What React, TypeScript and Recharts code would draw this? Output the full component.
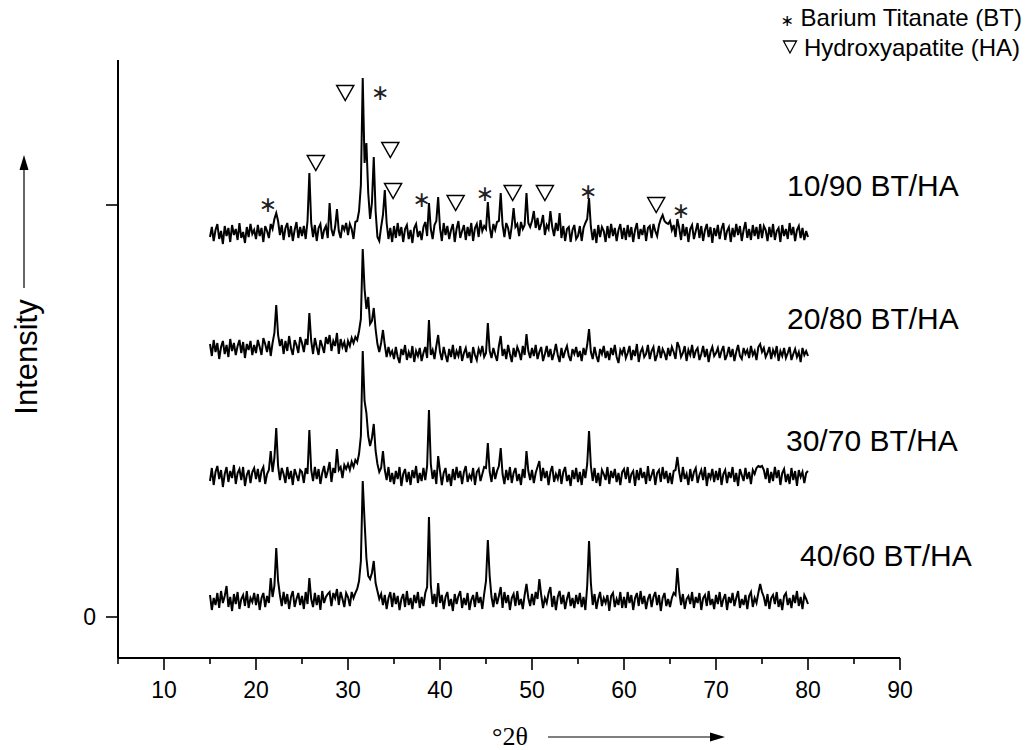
import React from 'react'
import { ComposedChart, Line, Scatter, XAxis, YAxis } from 'recharts'

// 2θ scan, 15–80° at 0.2° steps
const twoTheta = Array.from({ length: 326 }, (_, i) => Math.round((15 + i * 0.2) * 10) / 10)

const sampleNames = ['10/90 BT/HA', '20/80 BT/HA', '30/70 BT/HA', '40/60 BT/HA']
// vertical stacking of the patterns (intensity units)
const stackOffsets = [384, 268, 141, 16]

// relative intensity, one row = 5°
const bt10 = [
  -4, 6, -8, 3, 9, -6, 2, -11, 7, -3, 5, -9, 8, -2, 4, -7, 10, -5, 1, -10, 6, -4, 9, -1, 3,
  -6, 8, -3, 5, -9, 7, 2, -5, 9, 4, 14, 20, 12, -2, 8, -7, 5, 10, -4, 7, -8, 3, 11, -5, 6,
  -3, 7, -6, 12, 60, 10, -4, 8, -8, 5, 9, -6, 3, 7, -5, 30, 4, -3, 6, 24, 2, -5, 8, 3, 10,
  -2, 9, 4, -6, 11, 12, 22, 48, 155, 70, 90, 40, 14, 30, 76, 22, -4, -8, 6, 18, 43, 10, -6, 5, -9,
  7, -5, 10, -3, 6, -9, 4, 8, -6, 3, -10, 5, 9, -4, 2, -7, 6, 11, -3, 30, 4, -6, 8, 12, 36,
  5, -8, 10, -2, 7, -6, 3, 9, -9, 4, 12, -5, 2, 8, -7, 6, -3, 10, -8, 5, 9, -4, 13, 2, 7,
  4, 31, 6, -5, 9, 3, 11, 12, 40, 8, -4, 10, 5, -6, 7, 25, 6, 9, -3, 11, 4, 8, 40, 10, 6,
  12, 22, 5, 15, 3, 9, 18, -2, 8, 4, 22, 6, -3, 10, 2, 20, -5, 7, -8, 4, 6, -9, 3, 8, -6,
  -3, 7, -8, 5, 10, 14, 35, 6, -7, 4, -10, 8, -4, 6, 2, -9, 7, -5, 9, -3, 5, -8, 3, 9, -6,
  5, -7, 8, -4, 6, -9, 3, 10, -6, 4, -2, 8, -8, 5, 7, -5, 9, 2, -3, 8, 14, 18, 12, 10, 9,
  12, 3, 8, -4, 14, 5, -7, 9, -3, 6, -9, 4, 8, -6, 2, 10, -5, 7, -8, 3, 9, -4, 6, -10, 5,
  -3, 8, -6, 4, 10, -7, 2, 6, -9, 5, -4, 9, -2, 7, -8, 3, 11, -5, 4, -7, 8, -3, 6, -6, 9,
  -5, 7, 3, -8, 6, -4, 9, -7, 2, 5, -9, 8, -3, 4, -6, 10, -2, 6, -8, 3, 7, -5, 5, -7, 2,
  -4,
]

const bt20 = [
  5, -7, 9, -3, 6, -10, 2, 8, -5, 4, -8, 10, -2, 6, -6, 3, 9, -4, 7, -9, 5, -1, 8, -6, 4,
  -4, 9, 2, -6, 11, 5, -3, 8, -7, 6, 16, 44, 14, 3, 10, -5, 8, -2, 13, 1, -6, 9, 4, -4, 12,
  6, -3, 10, 4, 36, 8, -5, 11, 2, -6, 9, 3, -4, 12, 5, 14, -2, 8, 3, 16, -5, 10, 2, 7, -3,
  8, 3, 11, 6, 12, 9, 18, 30, 100, 60, 40, 52, 25, 28, 41, 20, 5, -3, 6, 19, 4, -8, 2, -6, -2,
  -10, 2, -8, -14, 0, -6, 4, -11, -3, -9, 3, -13, -2, -7, 1, -12, -4, 2, -9, 29, -6, -1, -10, 3, 14,
  -3, -11, 2, -6, -13, 0, -8, 4, -10, -2, -7, 3, -12, -4, 1, -9, -3, -14, 2, -6, -11, 0, -5, 3, -8,
  -4, 26, -2, -9, 1, -6, -12, 3, 13, -7, 0, -10, 4, -5, -13, 1, -8, 2, -3, -11, 3, -6, 15, -2, -9,
  1, -7, 4, -10, -3, 2, -12, -5, 3, -8, 0, -11, -4, 5, -6, -13, 1, -9, -2, 3, -7, -12, 0, -5, 2,
  -8, -2, -12, 1, -6, 4, 20, -3, -10, 2, -7, -13, 0, -5, 3, -9, -2, -11, 1, -6, 4, -8, -14, -1, -5,
  2, -9, -4, 3, -11, -1, -7, 5, -13, -3, 1, -8, -5, 4, -10, -2, 2, -12, -6, 3, -9, 0, -4, -11, 1,
  -7, 2, -3, -10, 7, 2, -8, -4, 3, -12, -1, -6, 4, -9, -2, 1, -11, -5, 3, -8, 0, -13, -3, 2, -7,
  -4, 1, -9, -2, 3, -11, -6, 2, -8, 0, -12, -3, 4, -7, -10, 1, -5, -1, -9, 3, -6, -2, -11, 2, 5,
  -3, 1, -8, -4, 2, -10, -1, -6, 3, -12, -2, -7, 1, -9, -4, 2, -11, -5, 0, -8, -3, -13, 1, -6, -2,
  -7,
]

const bt30 = [
  -5, 8, -9, 4, 10, -3, 6, -11, 2, 9, -6, 5, -2, 11, -8, 3, 7, -4, 9, -10, 1, 6, -7, 4, 8,
  -3, 7, -6, 5, 9, -8, 2, 6, 25, 4, 18, 48, 10, -4, 8, 2, -7, 9, -3, 5, -9, 7, 1, -5, 6,
  4, -7, 8, 2, 46, 6, -5, 9, -3, 7, -8, 3, 10, -2, 5, 14, -6, 8, 3, 27, 6, 9, -2, 11, 7,
  12, 6, 14, 9, 16, 13, 22, 40, 125, 75, 63, 40, 30, 38, 52, 25, 12, 4, 8, 25, 6, -4, 9, -6, 3,
  -8, 5, -3, 9, -10, 2, 7, -6, 4, -9, 6, -2, 10, -7, 3, -5, 8, -4, 10, 66, 12, -3, 6, -8, 20,
  5, -9, 3, 8, -6, 2, -10, 7, -4, 9, -2, 5, -8, 4, 10, -6, 1, -3, 8, -9, 4, 7, -5, 2, 9,
  8, 33, 4, -6, 9, -3, 5, 10, 28, 2, -8, 6, -4, 9, -7, 3, 8, -5, 2, -9, 7, -2, 25, 5, -4,
  6, -7, 3, 9, 15, -5, 8, -2, 5, -9, 4, 10, -6, 2, -3, 7, -8, 4, 9, -5, 1, -10, 6, -3, 8,
  -6, 4, -9, 7, -2, 12, 45, 10, -5, 8, -7, 3, -10, 6, 2, -4, 9, -8, 5, -2, 7, -6, 3, -9, 4,
  7, -3, 9, -7, 2, 5, -10, 6, -4, 8, -2, 4, -8, 10, -5, 1, 7, -9, 3, 6, -6, 9, -3, 5, -7,
  3, -8, 5, 6, 19, 4, -6, 9, -3, 2, -9, 7, -5, 4, 8, -7, 1, 6, -4, 9, -10, 3, -2, 7, -6,
  5, -4, 8, -9, 2, 6, -7, 4, -2, 9, -6, 3, -10, 7, 1, -5, 8, -3, 4, -8, 6, 2, 8, 10, 9,
  10, 6, -3, 8, -7, 4, -5, 9, -2, 6, -9, 3, 7, -6, 2, -8, 8, -4, 5, -10, 6, -1, 4, -7, 3,
  5,
]

const bt40 = [
  6, -9, 3, -4, 8, -7, 10, -2, 5, 15, -6, 4, -10, 7, -3, 9, -8, 2, 6, -5, 10, -7, 3, -1, 8,
  -4, 7, -9, 3, 8, -6, 5, -2, 23, 4, 15, 53, 20, 6, -5, 9, -3, 7, -8, 4, 10, -6, 2, 8, -4,
  5, -8, 9, -3, 23, 2, -6, 8, -4, 6, -9, 10, -2, 4, 7, 9, -5, 8, 3, 12, -4, 9, 2, -6, 8,
  4, -5, 9, 3, 8, 12, 20, 40, 120, 80, 43, 25, 22, 28, 40, 18, 10, 2, 7, -4, 6, -8, 3, 9, -6,
  8, -3, 5, -9, 2, 7, -6, 10, -4, 3, -8, 6, -2, 9, -7, 4, -5, 8, 14, 84, 16, -3, 7, -6, 18,
  -2, 6, -8, 4, 9, -5, 2, -10, 7, -3, 5, 10, -7, 3, -4, 8, -9, 1, 6, -6, 9, -2, 4, -8, 7,
  20, 61, 25, 4, -6, 8, -3, 5, 14, -7, 9, -2, 6, -9, 3, 7, -5, 10, -4, 2, -8, 6, 17, 3, -5,
  7, -4, 9, 2, 22, 6, -7, 3, -2, 8, 14, -6, 5, -9, 4, 10, -3, 6, -8, 2, 9, -5, 3, -7, 6,
  -3, 8, -6, 4, -9, 15, 60, 18, -4, 7, -8, 2, 9, -5, 3, -2, 6, -10, 5, 8, -6, 2, -4, 9, -7,
  4, -7, 9, -2, 6, -9, 3, 8, -5, 10, -3, 5, -8, 2, 7, -6, 4, 9, -4, 6, -10, 3, 8, -5, 2,
  -6, 3, 8, 6, 33, 10, -4, 7, -8, 2, 5, -3, 9, -7, 4, -2, 8, -9, 3, 6, -5, 10, -4, 2, -8,
  6, -3, 9, -6, 2, 7, -9, 4, -2, 8, -5, 3, 10, -7, 2, -4, 6, -8, 5, 9, -6, 3, -2, 8, 17,
  9, 4, -5, 7, -8, 3, 6, -3, 9, -6, 2, -9, 5, 8, -4, 3, -7, 6, -2, 10, -5, 4, -8, 6, 2,
  -3,
]

// phase markers over the 10/90 pattern
const markSymbol = ['∗', '∇', '∇', '∗', '∇', '∇', '∗', '∇', '∗', '∇', '∇', '∗', '∇', '∗']
const markAngle = [21.3, 26.5, 29.7, 33.5, 34.6, 34.9, 38.0, 41.7, 44.9, 47.9, 51.4, 56.1, 63.5, 66.2]
const markLevel = [413, 454, 524, 525, 467, 426, 418, 414, 424, 424, 424, 426, 412, 407]

const xTicks = [5, 10, 15, 20, 25, 30, 35, 40, 45, 50, 55, 60, 65, 70, 75, 80, 85, 90]
const yTicks = [0, 412]

const series = [bt10, bt20, bt30, bt40]
const keys = ['s10', 's20', 's30', 's40']

const rows = twoTheta.map((t, i) => {
  const row: any = { t }
  series.forEach((s, k) => { row[keys[k]] = stackOffsets[k] + s[i] })
  return row
})

const marks = markAngle.map((t, i) => ({ t, level: markLevel[i], sym: markSymbol[i] }))

const SANS = '"Liberation Sans", Arial, Helvetica, sans-serif'
const SYMBOL_FONT = '"DejaVu Sans", sans-serif'

// open inverted triangle like the ∇ glyph of the original
const nabla = (cx: number, cy: number, w: number, h: number) =>
  `${cx - w / 2},${cy - h / 2} ${cx + w / 2},${cy - h / 2} ${cx},${cy + h / 2}`

const XTick = (props: any) => {
  const { x, y, payload } = props
  const major = payload.value % 10 === 0
  return (
    <g>
      <line x1={x} y1={y} x2={x} y2={y + (major ? 12 : 6)} stroke="#000" strokeWidth={1.6} />
      {major && payload.value > 5 && (
        <text x={x} y={y + 40} textAnchor="middle" fontSize={23} fontFamily={SANS} fill="#000">
          {payload.value}
        </text>
      )}
    </g>
  )
}

const YTick = (props: any) => {
  const { x, y, payload } = props
  return (
    <g>
      <line x1={x - 12} y1={y} x2={x} y2={y} stroke="#000" strokeWidth={1.6} />
      {payload.value === 0 && (
        <text x={x - 22} y={y + 8} textAnchor="end" fontSize={23} fontFamily={SANS} fill="#000">0</text>
      )}
    </g>
  )
}

const MarkShape = (props: any) => {
  const { cx, cy, payload } = props
  if (payload.sym === '∇') {
    return <polygon points={nabla(cx, cy, 17, 15)} fill="none" stroke="#000" strokeWidth={1.5} strokeLinejoin="miter" />
  }
  return (
    <text x={cx} y={cy} textAnchor="middle" dominantBaseline="central"
      fontSize={22} fontFamily={SYMBOL_FONT} fill="#222">
      {payload.sym}
    </text>
  )
}

export default function App() {
  return (
    <div style={{ position: 'absolute', left: 0, top: 0, width: 1027, height: 750, background: '#fff' }}>
      <ComposedChart width={1027} height={750} data={rows}
        margin={{ top: 60, right: 127, bottom: 32, left: 58 }}>
        <XAxis dataKey="t" type="number" domain={[5, 90]} ticks={xTicks} interval={0}
          height={60} tickSize={0} tickMargin={0} tickLine={false} tick={XTick}
          axisLine={{ stroke: '#000', strokeWidth: 2 }} allowDataOverflow />
        <YAxis type="number" domain={[-41, 557]} ticks={yTicks} interval={0}
          width={60} tickSize={0} tickMargin={0} tickLine={false} tick={YTick}
          axisLine={{ stroke: '#000', strokeWidth: 2 }} allowDataOverflow />
        {keys.map((k) => (
          <Line key={k} dataKey={k} type="linear" stroke="#000" strokeWidth={2}
            strokeLinejoin="miter" dot={false} activeDot={false} isAnimationActive={false} />
        ))}
        <Scatter data={marks} dataKey="level" shape={MarkShape} isAnimationActive={false} />
      </ComposedChart>

      <svg width={1027} height={750} style={{ position: 'absolute', left: 0, top: 0, pointerEvents: 'none' }}>
        <g fontFamily={SANS} fill="#000">
          <text x={1022} y={26} textAnchor="end" fontSize={24}>
            <tspan fontFamily={SYMBOL_FONT} fontSize={16}>∗</tspan> Barium Titanate (BT)
          </text>
          <text x={1020} y={56} textAnchor="end" fontSize={24}>Hydroxyapatite (HA)</text>
          <text x={787} y={196} fontSize={30}>{sampleNames[0]}</text>
          <text x={787} y={329} fontSize={30}>{sampleNames[1]}</text>
          <text x={786} y={451} fontSize={30}>{sampleNames[2]}</text>
          <text x={800} y={566} fontSize={30}>{sampleNames[3]}</text>
          <text transform="translate(37,357) rotate(-90)" textAnchor="middle" fontSize={31}>Intensity</text>
        </g>
        <polygon points={nabla(790, 47, 13, 12)} fill="none" stroke="#000" strokeWidth={1.3} />
        <line x1={24} y1={288} x2={24} y2={168} stroke="#000" strokeWidth={1.2} />
        <polygon points="24,155 19.5,170 28.5,170" fill="#000" />
        <text x={510} y={745} textAnchor="middle" fontSize={26} fontFamily='"Liberation Serif", "Times New Roman", serif' fill="#000">°2θ</text>
        <line x1={548} y1={737} x2={712} y2={737} stroke="#000" strokeWidth={1.2} />
        <polygon points="725,737 710,732.5 710,741.5" fill="#000" />
      </svg>
    </div>
  )
}
